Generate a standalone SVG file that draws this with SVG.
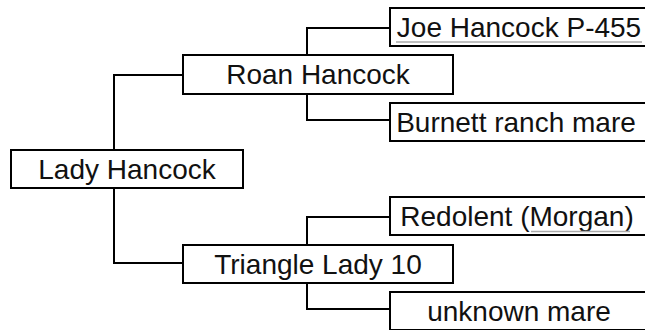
<svg xmlns="http://www.w3.org/2000/svg" width="645" height="330" viewBox="0 0 645 330">
<style>
.box{fill:#fff;stroke:#000;stroke-width:2}
.lbl{font-family:"Liberation Sans",Arial,sans-serif;font-size:28px;fill:#111;text-anchor:middle}
.con{fill:none;stroke:#000;stroke-width:2}
.ul{stroke:#aaa;stroke-width:1.5}
</style>
<rect width="645" height="330" fill="#fff"/>
<g id="connectors">
<path class="con" d="M114,150 V75 H183"/>
<path class="con" d="M114,188 V263 H183"/>
<path class="con" d="M307,55 V28 H390"/>
<path class="con" d="M307,94 V120 H390"/>
<path class="con" d="M307,245 V217 H390"/>
<path class="con" d="M307,283 V309 H390"/>
</g>
<g id="lady-hancock">
<rect class="box" x="11" y="150" width="232" height="38"/>
<text class="lbl" x="127" y="179">Lady Hancock</text>
</g>
<g id="roan-hancock">
<rect class="box" x="183" y="55" width="270" height="39"/>
<text class="lbl" x="318" y="84">Roan Hancock</text>
</g>
<g id="triangle-lady-10">
<rect class="box" x="183" y="245" width="270" height="38"/>
<text class="lbl" x="318" y="274">Triangle Lady 10</text>
</g>
<g id="joe-hancock">
<rect class="box" x="390" y="8" width="258" height="38"/>
<text class="lbl" x="519" y="37">Joe Hancock P-455</text>
<line class="ul" x1="396" y1="42" x2="642" y2="42"/>
</g>
<g id="burnett-ranch-mare">
<rect class="box" x="390" y="103" width="258" height="38"/>
<text class="lbl" x="516" y="132">Burnett ranch mare</text>
</g>
<g id="redolent">
<rect class="box" x="390" y="197" width="258" height="38"/>
<text class="lbl" x="517" y="226">Redolent (Morgan)</text>
<line class="ul" x1="531" y1="231.5" x2="630" y2="231.5"/>
</g>
<g id="unknown-mare">
<rect class="box" x="390" y="292" width="258" height="38"/>
<text class="lbl" x="519" y="321">unknown mare</text>
</g>
</svg>
